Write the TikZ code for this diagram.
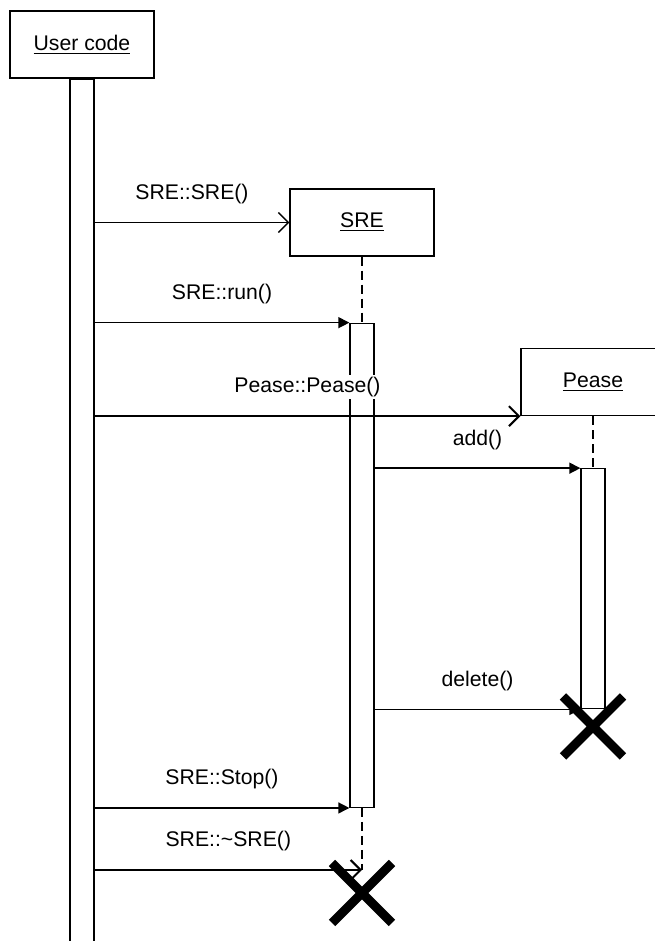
\documentclass[tikz,border=0pt]{standalone}
\usepackage{fontspec}
\setmainfont{Liberation Sans}
\usetikzlibrary{arrows.meta,positioning,shapes.misc}
\tikzset{
  every node/.style={font=\fontsize{10.6}{12.7}\selectfont,text=black},
  objbox/.style={draw,line width=0.65pt,fill=white,minimum width=72pt,minimum height=33.5pt,inner sep=0pt},
  actbar/.style={draw,line width=0.65pt,fill=white,minimum width=12pt,inner sep=0pt},
  lifeline/.style={line width=1.25pt,dash pattern=on 4.5pt off 2.5pt},
  callarr/.style={-{Triangle[length=5.5pt,width=5.5pt]},line width=0.7pt},
  newarr/.style={-{Straight Barb[length=5pt,width=10pt]},line width=0.7pt},
  killmark/.style={cross out,draw,line width=4.5pt,minimum size=30pt,inner sep=0pt,outer sep=0pt},
  msglabel/.style={above=8pt,fill=white,inner sep=1pt},
}

\begin{document}
\begin{tikzpicture}[x=0.5pt,y=-0.5pt]
  \useasboundingbox (0,0) rectangle (654,941);

  \node[objbox] (user) at (82,44.5) {\underline{User code}};
  \node[actbar,minimum height=436pt,below=0pt of user] (ubar) {};

  \node[objbox] (sre) at (362,222.5) {\underline{SRE}};
  \node[actbar,minimum height=242pt,below=33pt of sre] (srebar) {};
  \coordinate (sreend) at ([yshift=-31pt]srebar.south);

  \node[objbox] (pease) at (593,382) {\underline{Pease}};
  \node[actbar,minimum height=120pt,below=26pt of pease] (peasebar) {};

  \draw[lifeline] (sre.south) -- (srebar.north);
  \draw[lifeline] (pease.south) -- (peasebar.north);
  \draw[lifeline] (srebar.south) -- (sreend);

  \draw[newarr] (ubar.east |- sre.west) -- (sre.west) node[msglabel,midway] {SRE::SRE()};
  \draw[callarr] (ubar.east |- srebar.north) -- (srebar.north west) node[msglabel,midway] {SRE::run()};
  \draw[newarr,line width=1pt] (ubar.east |- pease.south west) -- (pease.south west) node[msglabel,midway] {Pease::Pease()};
  \draw[callarr] (srebar.east |- peasebar.north) -- (peasebar.north west) node[msglabel,midway] {add()};
  \draw[callarr] (srebar.east |- peasebar.south) -- (peasebar.south west) node[msglabel,midway] {delete()};
  \draw[callarr] (ubar.east |- srebar.south) -- (srebar.south west) node[msglabel,midway] {SRE::Stop()};
  \draw[newarr,line width=1pt] (ubar.east |- sreend) -- (sreend) node[msglabel,midway] {SRE::\textasciitilde SRE()};

  \node[killmark] (peasex) at ([yshift=-8.5pt]peasebar.south) {};
  \node[killmark] (srex) at ([yshift=-11.5pt]sreend) {};
\end{tikzpicture}
\end{document}
